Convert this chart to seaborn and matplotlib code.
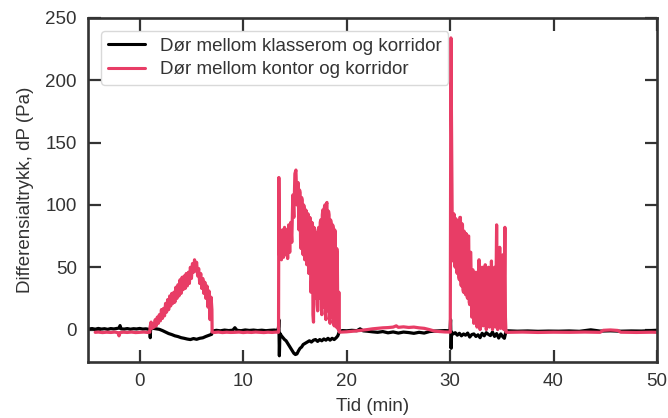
import matplotlib
matplotlib.use("Agg")
import matplotlib.pyplot as plt
import seaborn as sns
import pandas as pd

# ---------------- data ----------------
series_names = ["Dør mellom klasserom og korridor", "Dør mellom kontor og korridor"]
x_label = "Tid (min)"
y_label = "Differensialtrykk, dP (Pa)"
x_ticks = [0, 10, 20, 30, 40, 50]
y_ticks = [0, 50, 100, 150, 200, 250]

black_t = [-4.9, -4.6, -4.3, -4.0, -3.7, -3.4, -3.1, -2.8, -2.5, -2.2, -2.0, -1.9, -1.8, -1.5, -1.2,
           -0.9, -0.6, -0.3, 0.0, 0.3, 0.6, 0.9,
           1.0, 1.02, 1.05, 1.3, 1.6, 1.9, 2.2, 2.5, 2.8, 3.1, 3.4, 3.7, 4.0, 4.3, 4.6, 4.9, 5.2,
           5.5, 5.8, 6.1, 6.4, 6.7, 6.95,
           7.05, 7.4, 7.8, 8.2, 8.6, 9.0, 9.2, 9.4, 9.8, 10.2, 10.6, 11.0, 11.4, 11.8, 12.2, 12.6,
           13.0, 13.35,
           13.42, 13.45, 13.5, 13.55, 13.7, 13.85, 14.0, 14.15, 14.3, 14.45, 14.6, 14.75, 14.9,
           15.05, 15.2, 15.35, 15.5, 15.65, 15.8, 16.0, 16.2, 16.4, 16.6, 16.8, 17.0, 17.2, 17.4,
           17.6, 17.8, 18.0, 18.2, 18.4, 18.6, 18.8, 19.0, 19.15, 19.3,
           19.6, 20.0, 20.5, 21.0, 21.3, 21.6, 22.0, 22.5, 23.0, 23.5, 24.0, 24.5, 25.0, 25.5,
           26.0, 26.5, 27.0, 27.5, 28.0, 28.5, 29.0, 29.5, 29.95,
           30.0, 30.05, 30.1, 30.15, 30.3, 30.5, 30.7, 30.9, 31.1, 31.3, 31.5, 31.7, 31.9, 32.1,
           32.3, 32.5, 32.7, 32.9, 33.1, 33.3, 33.5, 33.7, 33.9, 34.1, 34.3, 34.5, 34.7, 34.9,
           35.1, 35.25, 35.4,
           35.6, 36.5, 37.5, 38.5, 39.5, 40.5, 41.5, 42.5, 43.6, 44.5, 45.5, 46.5, 47.5, 48.5,
           49.5, 50.0]
black_v = [0.5, 0.8, 0.3, 0.9, 0.4, 0.7, 0.2, 0.8, 0.5, 0.9, 1.2, 3.2, 0.6, 0.4, 0.8,
           0.3, 0.7, 0.5, 0.9, 0.4, 0.6, 0.2,
           -1.0, -6.5, 0.5, 1.0, 0.6, 0.2, -0.8, -2.0, -3.2, -4.0, -5.0, -5.6, -6.5, -7.0, -7.6,
           -8.0, -7.2, -7.8, -7.0, -6.6, -5.5, -4.6, -3.8,
           -1.2, -0.6, -1.0, -0.4, -0.8, -0.5, 1.5, -0.6, -0.9, -0.3, -0.7, -0.4, -0.8, -0.5,
           -0.9, -0.6, -0.4, -0.7,
           2.0, 8.0, -21.0, -3.0, -5.0, -6.5, -8.0, -9.0, -11.0, -13.0, -15.0, -17.0, -19.0,
           -20.0, -19.5, -17.0, -15.0, -14.0, -12.0, -11.0, -10.0, -9.0, -10.0, -8.5, -8.0, -9.5,
           -8.0, -9.0, -7.5, -8.5, -7.0, -8.5, -7.0, -8.0, -6.5, -5.0, -1.5,
           -0.8, -1.0, -0.6, -0.9, 0.6, -1.0, -1.3, -1.8, -2.2, -1.6, -2.6, -1.9, -2.8, -2.0,
           -2.4, -3.0, -2.2, -2.8, -1.6, -1.2, -1.0, -0.8, -1.0,
           -1.0, 8.0, -15.0, -2.0, -3.5, -2.5, -4.5, -3.0, -5.0, -3.5, -4.5, -2.8, -6.0, -4.0,
           -3.5, -5.5, -4.2, -6.5, -3.0, -5.0, -2.5, -3.8, -4.8, -2.0, -5.5, -3.2, -6.8, -3.5,
           -5.8, -7.0, -1.5,
           -1.0, -1.3, -1.1, -1.4, -1.2, -1.3, -1.1, -1.4, -0.2, -1.2, -1.0, -1.3, -1.1, -1.2,
           -0.8, -0.6]

red_t = [-4.3, -4.0, -3.6, -3.2, -2.8, -2.4, -2.1, -2.0, -1.9, -1.6, -1.2, -0.8, -0.4, 0.0,
         0.4, 0.8, 0.98,
         1.0, 1.1, 1.2, 1.3, 1.4, 1.5, 1.6, 1.7, 1.8, 1.9, 2.0, 2.1, 2.2, 2.3, 2.4, 2.5, 2.6,
         2.7, 2.8, 2.9, 3.0, 3.1, 3.2, 3.3, 3.4, 3.5, 3.6, 3.7, 3.8, 3.9, 4.0, 4.1, 4.2, 4.3,
         4.4, 4.5, 4.6, 4.7, 4.8, 4.9, 5.0, 5.1, 5.2, 5.3, 5.4, 5.5, 5.6, 5.7, 5.8, 5.9, 6.0,
         6.1, 6.2, 6.3, 6.4, 6.5, 6.6, 6.7, 6.8, 6.9, 6.98, 7.0,
         7.2, 7.6, 8.0, 8.4, 8.8, 9.2, 9.6, 10.0, 10.4, 10.8, 11.2, 11.6, 12.0, 12.4, 12.8,
         13.2, 13.4,
         13.42, 13.45, 13.5, 13.6, 13.7, 13.8, 13.9, 14.0, 14.1, 14.2, 14.3, 14.4, 14.5, 14.6,
         14.7, 14.8, 14.9, 15.0, 15.1, 15.2, 15.3,
         15.4, 15.45, 15.5, 15.55, 15.6, 15.65, 15.7, 15.75, 15.8, 15.85, 15.9, 15.95,
         16.0, 16.05, 16.1, 16.15, 16.2, 16.25, 16.3, 16.35, 16.4, 16.45, 16.5, 16.55,
         16.6, 16.65, 16.7, 16.75, 16.8, 16.85, 16.9, 16.95, 17.0, 17.05, 17.1, 17.15,
         17.2, 17.25, 17.3, 17.35, 17.4, 17.45, 17.5, 17.55, 17.6, 17.65, 17.7, 17.75,
         17.8, 17.85, 17.9, 17.95, 18.0, 18.05, 18.1, 18.15, 18.2, 18.25, 18.3, 18.35,
         18.4, 18.45, 18.5, 18.55, 18.6, 18.65, 18.7, 18.75, 18.8, 18.85, 18.9, 18.95,
         19.0, 19.05, 19.1, 19.15, 19.2, 19.25, 19.3,
         19.5, 20.0, 20.5, 21.0, 21.5, 22.0, 22.5, 23.0, 23.5, 24.0, 24.5, 24.8, 25.0, 25.5,
         26.0, 26.5, 27.0, 27.5, 28.0, 28.5, 29.0, 29.5, 29.98,
         30.02, 30.08, 30.2, 30.25, 30.3, 30.35, 30.4, 30.45, 30.5, 30.55, 30.6, 30.65, 30.7,
         30.75, 30.8, 30.85, 30.9, 30.95, 31.0, 31.05, 31.1, 31.15, 31.2, 31.25, 31.3, 31.35,
         31.4, 31.45, 31.5, 31.55, 31.6, 31.65, 31.7, 31.75, 31.8, 31.85, 31.9, 31.95,
         32.0, 32.1, 32.2, 32.3, 32.4, 32.5, 32.6, 32.7, 32.8, 32.9, 33.0, 33.1, 33.2, 33.3,
         33.4, 33.5, 33.6, 33.7, 33.8, 33.9, 34.0, 34.1, 34.2, 34.3, 34.4, 34.5, 34.6, 34.7,
         34.8, 34.9, 35.0, 35.1, 35.2, 35.3, 35.35, 35.4,
         35.6, 37.0, 38.5, 40.0, 41.5, 43.0, 44.5, 44.8, 45.5, 46.2, 46.5, 48.0, 49.5, 50.0]
red_v = [-2.2, -2.0, -2.4, -2.1, -2.3, -2.0, -2.5, -5.0, -2.4, -2.1, -2.3, -2.0, -2.4, -2.2,
         -2.0, -2.3, -2.1,
         2, 6, 1, 5, 2, 8, 3, 10, 5, 12, 7, 16, 9, 17, 11, 21, 14,
         24, 16, 27, 19, 29, 21, 30, 22, 34, 25, 36, 27, 40, 29, 42, 32, 43,
         33, 45, 35, 46, 37, 50, 41, 53, 46, 56, 47, 54, 43, 49, 37, 45, 33,
         41, 29, 38, 25, 35, 18, 31, 8, 26, 16, -2,
         -2.3, -2.0, -2.4, -2.1, -2.3, -2.2, -2.0, -2.4, -2.1, -2.3, -2.0, -2.2, -2.4, -2.1,
         -2.3, -2.0, -2.2,
         -2, 122, 60, 78, 56, 80, 58, 82, 60, 80, 57, 84, 62, 86,
         70, 108, 90, 125, 128, 100, 118,
         80, 112, 110, 70, 65, 106, 104, 62, 60, 100, 98, 56,
         58, 96, 95, 52, 55, 93, 92, 45, 50, 90, 88, 30,
         40, 86, 84, 12, 6, 82, 80, 30, 25, 78, 76, 20,
         15, 80, 82, 30, 25, 86, 88, 18, 12, 92, 96, 22,
         18, 98, 100, 12, 8, 101, 102, 20, 15, 95, 92, 8,
         5, 88, 86, 14, 10, 84, 82, 6, 3, 80, 78, 5,
         2, 65, 60, 3, 0, 30, -2,
         -2.0, -1.8, -1.4, -1.0, -0.5, 0.0, 0.6, 1.0, 1.4, 1.6, 2.0, 3.0, 1.8, 2.2,
         1.7, 2.0, 1.4, 1.0, 0.0, -1.2, -1.6, -1.9, -2.0,
         -2, 234, 94, 60, 55, 93, 92, 52, 50, 89, 88, 46, 45,
         87, 86, 42, 40, 90, 90, 36, 35, 85, 84, 32, 30, 79,
         78, 30, 28, 77, 76, 26, 25, 75, 75, 22, 20, 62,
         62, 10, 48, 5, 20, 46, 2, 15, 56, 0, 12, 50, 3, 18,
         52, 0, 14, 50, 2, 20, 55, 0, 16, 50, 2, 84, 0, 18,
         66, 1, 15, 60, 0, 82, 10, -2,
         -2.2, -2.0, -2.3, -2.1, -2.2, -2.0, -2.2, -0.6, -0.3, -0.7, -2.1, -2.3, -2.1, -2.2]

# ---------------- figure ----------------
sns.set_theme(style="ticks")
plt.rcParams["font.family"] = ["Liberation Sans", "DejaVu Sans"]
text_col = "#333333"
plt.rcParams["text.color"] = text_col
plt.rcParams["axes.labelcolor"] = text_col
plt.rcParams["xtick.color"] = text_col
plt.rcParams["ytick.color"] = text_col

black_df = pd.DataFrame({"t": black_t, "v": black_v})
red_df = pd.DataFrame({"t": red_t, "v": red_v})

fig, ax = plt.subplots(figsize=(6.68, 4.18), dpi=100)
fig.subplots_adjust(left=0.1317, right=0.9835, top=0.957, bottom=0.134)

sns.lineplot(data=black_df, x="t", y="v", ax=ax, color="black", lw=2.3,
             sort=False, estimator=None, label=series_names[0])
sns.lineplot(data=red_df, x="t", y="v", ax=ax, color="#E83D66", lw=2.3,
             sort=False, estimator=None, label=series_names[1])

ax.set_xlim(-5, 50)
ax.set_ylim(-26, 250)
ax.set_xticks(x_ticks)
ax.set_yticks(y_ticks)
ax.set_xlabel(x_label, fontsize=13.5, labelpad=6)
ax.set_ylabel(y_label, fontsize=13.5, labelpad=8)
ax.tick_params(direction="in", length=9, width=1.6, top=True, right=True,
               labelsize=13.5, pad=8, colors=text_col)
for s in ax.spines.values():
    s.set_visible(True)
    s.set_linewidth(1.9)
    s.set_color(text_col)

leg = ax.legend(loc="upper left", fontsize=13.5, frameon=True, fancybox=True,
                borderaxespad=0.7, handlelength=2.0, handletextpad=0.8,
                labelspacing=0.35, borderpad=0.35)
leg.get_frame().set_edgecolor("#d0d0d0")
leg.get_frame().set_linewidth(1.0)
for line in leg.get_lines():
    line.set_linewidth(2.2)
for txt in leg.get_texts():
    txt.set_color(text_col)

fig.savefig("out.png", dpi=100)
